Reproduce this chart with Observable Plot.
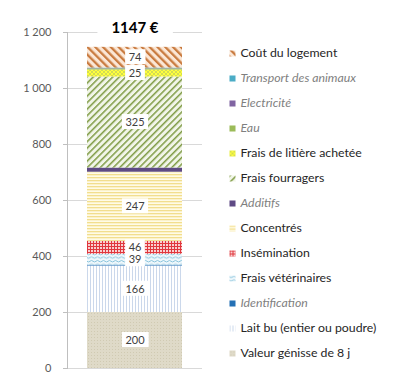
<!DOCTYPE html>
<html><head><meta charset="utf-8">
<script src="https://cdn.jsdelivr.net/npm/d3@7"></script>
<script src="https://cdn.jsdelivr.net/npm/@observablehq/plot@0.6"></script>
<style>
body{margin:0;background:#fff;font-family:Lato,sans-serif;}
#wrap{display:flex;width:395px;height:388px;overflow:hidden;}
</style></head><body>
<svg width="0" height="0" style="position:absolute">
<defs>
<pattern id="pLogement" patternUnits="userSpaceOnUse" width="5.5" height="5.5" patternTransform="rotate(-45)">
  <rect width="5.5" height="5.5" fill="#FBE7D6"/><rect width="2.3" height="5.5" fill="#C97B40"/>
</pattern>
<pattern id="pFourrage" patternUnits="userSpaceOnUse" width="4.6" height="4.6" patternTransform="rotate(45)">
  <rect width="4.6" height="4.6" fill="#F1F5E8"/><rect width="1.5" height="4.6" fill="#7F9B45"/>
</pattern>
<pattern id="pLitiere" patternUnits="userSpaceOnUse" width="4" height="4">
  <rect width="4" height="4" fill="#FFFF3C"/><path d="M0 0L4 4M4 0L0 4" stroke="#C9D35A" stroke-width="0.8"/>
</pattern>
<pattern id="pConcentres" patternUnits="userSpaceOnUse" width="4" height="3">
  <rect width="4" height="3" fill="#FFFBE6"/><rect width="4" height="1.3" fill="#F2DE8E"/>
</pattern>
<pattern id="pInsem" patternUnits="userSpaceOnUse" width="3" height="3">
  <rect width="3" height="3" fill="#F8D0D0"/><rect width="1" height="3" fill="#E0373D"/><rect width="3" height="1" fill="#E0373D"/>
</pattern>
<pattern id="pVeto" patternUnits="userSpaceOnUse" width="6" height="3.6">
  <rect width="6" height="3.6" fill="#EEF7FB"/><path d="M0 2Q1.5 0.6 3 2T6 2" fill="none" stroke="#7DBFD8" stroke-width="0.9"/>
</pattern>
<pattern id="pLait" patternUnits="userSpaceOnUse" width="3" height="4">
  <rect width="3" height="4" fill="#FFFFFF"/><rect width="1" height="4" fill="#CBD8EB"/>
</pattern>
<pattern id="pGenisse" patternUnits="userSpaceOnUse" width="3" height="3">
  <rect width="3" height="3" fill="#DFDAC8"/><rect x="1" y="1" width="1" height="1" fill="#D0CAB2"/>
</pattern>
</defs></svg>
<div id="wrap"></div>
<script>
// Stack order, bottom to top
const categories = [
  "Valeur génisse de 8 j",
  "Lait bu (entier ou poudre)",
  "Identification",
  "Frais vétérinaires",
  "Insémination",
  "Concentrés",
  "Additifs",
  "Frais fourragers",
  "Frais de litière achetée",
  "Eau",
  "Electricité",
  "Transport des animaux",
  "Coût du logement"
];
const values = [200, 166, 3, 39, 46, 247, 15, 325, 25, 4, 1, 2, 74];
const italicCategories = ["Transport des animaux", "Electricité", "Eau", "Additifs", "Identification"];
const yTicks = [0, 200, 400, 600, 800, 1000, 1200];
const barGroup = "Coût";

const fills = {
  "Valeur génisse de 8 j": "url(#pGenisse)",
  "Lait bu (entier ou poudre)": "url(#pLait)",
  "Identification": "#2470B5",
  "Frais vétérinaires": "url(#pVeto)",
  "Insémination": "url(#pInsem)",
  "Concentrés": "url(#pConcentres)",
  "Additifs": "#5E4A84",
  "Frais fourragers": "url(#pFourrage)",
  "Frais de litière achetée": "url(#pLitiere)",
  "Eau": "#9BBB59",
  "Electricité": "#8064A2",
  "Transport des animaux": "#4BACC6",
  "Coût du logement": "url(#pLogement)"
};

const rows = categories.map((c, i) => ({group: barGroup, category: c, value: values[i]}));
const total = d3.sum(values);
const fmt = d => d3.format(",")(d).replace(/,/g, " ");

const chart = Plot.plot({
  width: 210, height: 388,
  marginLeft: 67, marginRight: 8, marginTop: 32, marginBottom: 20,
  style: {fontFamily: "Lato, sans-serif", background: "#fff"},
  x: {domain: [barGroup], padding: 0.17, axis: null},
  y: {domain: [0, 1200], axis: null},
  color: {type: "identity"},
  marks: [
    Plot.gridY(yTicks, {stroke: "#d9d9d9", strokeOpacity: 1}),
    Plot.axisY({ticks: yTicks, tickFormat: fmt, label: null, tickSize: 4, tickPadding: 12, stroke: "#bfbfbf", fill: "#595959", fontSize: 11}),
    Plot.frame({anchor: "left", stroke: "#bfbfbf"}),
    Plot.barY(rows, {x: "group", y: "value", fill: d => fills[d.category]}),
    Plot.text(rows, Plot.stackY({x: "group", y: "value", text: d => d.value >= 20 ? String(d.value) : null, fill: "#404040", fontSize: 11, className: "vlabel"})),
    Plot.text([total], {x: () => barGroup, y: d => d, dy: -19, text: d => `${d} €`, fontWeight: "bold", fontSize: 15, fill: "#000", className: "tlabel"})
  ]
});

const legendOrder = categories.slice().reverse();
const legend = Plot.plot({
  width: 185, height: 388,
  marginLeft: 0, marginRight: 0, marginTop: 51, marginBottom: 34,
  style: {fontFamily: "Lato, sans-serif", background: "#fff"},
  x: {axis: null},
  y: {type: "point", domain: legendOrder, padding: 0, axis: null},
  color: {type: "identity"},
  marks: [
    Plot.dot(legendOrder, {y: d => d, frameAnchor: "left", dx: 22, symbol: "square", r: 3.4, fill: d => fills[d], stroke: null}),
    Plot.text(legendOrder.filter(d => !italicCategories.includes(d)), {y: d => d, frameAnchor: "left", dx: 30, textAnchor: "start", text: d => d, fill: "#262626", fontSize: 12.3}),
    Plot.text(legendOrder.filter(d => italicCategories.includes(d)), {y: d => d, frameAnchor: "left", dx: 30, textAnchor: "start", text: d => d, fill: "#7f7f7f", fontSize: 12.3, fontStyle: "italic"})
  ]
});

const wrap = document.getElementById("wrap");
wrap.appendChild(chart);
wrap.appendChild(legend);

// White boxes behind value labels
function boxLabels(selector, padX, padY) {
  chart.querySelectorAll(selector + " text").forEach(t => {
    const b = t.getBBox();
    const r = document.createElementNS("http://www.w3.org/2000/svg", "rect");
    r.setAttribute("x", b.x - padX);
    r.setAttribute("y", b.y - padY);
    r.setAttribute("width", b.width + 2 * padX);
    r.setAttribute("height", b.height + 2 * padY);
    r.setAttribute("fill", "#fff");
    const tr = t.getAttribute("transform");
    if (tr) r.setAttribute("transform", tr);
    t.parentNode.insertBefore(r, t);
  });
}
boxLabels(".vlabel", 3.5, 1);
boxLabels(".tlabel", 14, 0);
</script>
</body></html>
